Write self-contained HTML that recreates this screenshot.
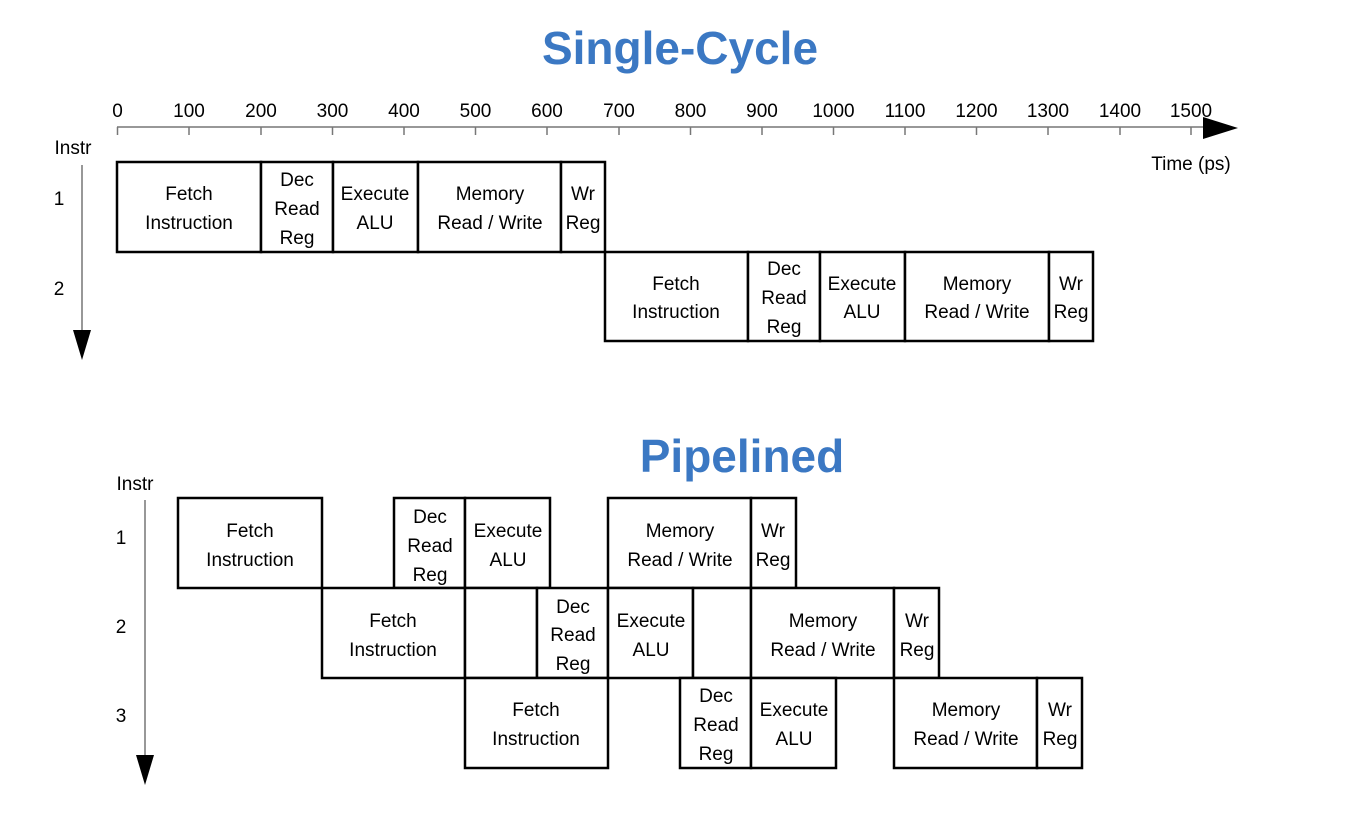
<!DOCTYPE html>
<html><head><meta charset="utf-8"><style>
html,body{margin:0;padding:0;background:#fff;}
svg{display:block;font-family:"Liberation Sans",sans-serif;}
.t{font-size:19px;fill:#000;text-anchor:middle;}
.b{fill:#fff;stroke:#000;stroke-width:2.5;}
</style></head><body>
<svg width="1351" height="829" viewBox="0 0 1351 829">
<text x="680" y="64" font-size="46" font-weight="bold" fill="#3b78c3" text-anchor="middle">Single-Cycle</text>
<text x="742" y="472" font-size="46" font-weight="bold" fill="#3b78c3" text-anchor="middle">Pipelined</text>
<line x1="117" y1="127" x2="1210" y2="127" stroke="#777" stroke-width="1.5"/>
<polygon points="1203,117 1238,128 1203,139" fill="#000"/>
<g stroke="#777" stroke-width="1.5">
<line x1="117.5" y1="127" x2="117.5" y2="135"/><line x1="189" y1="127" x2="189" y2="135"/><line x1="261" y1="127" x2="261" y2="135"/><line x1="332.5" y1="127" x2="332.5" y2="135"/><line x1="404" y1="127" x2="404" y2="135"/><line x1="475.5" y1="127" x2="475.5" y2="135"/><line x1="547" y1="127" x2="547" y2="135"/><line x1="619" y1="127" x2="619" y2="135"/><line x1="690.5" y1="127" x2="690.5" y2="135"/><line x1="762" y1="127" x2="762" y2="135"/><line x1="833.5" y1="127" x2="833.5" y2="135"/><line x1="905" y1="127" x2="905" y2="135"/><line x1="976.5" y1="127" x2="976.5" y2="135"/><line x1="1048" y1="127" x2="1048" y2="135"/><line x1="1120" y1="127" x2="1120" y2="135"/><line x1="1191" y1="127" x2="1191" y2="135"/>
</g>
<g class="t">
<text x="117.5" y="117">0</text><text x="189" y="117">100</text><text x="261" y="117">200</text><text x="332.5" y="117">300</text><text x="404" y="117">400</text><text x="475.5" y="117">500</text><text x="547" y="117">600</text><text x="619" y="117">700</text><text x="690.5" y="117">800</text><text x="762" y="117">900</text><text x="833.5" y="117">1000</text><text x="905" y="117">1100</text><text x="976.5" y="117">1200</text><text x="1048" y="117">1300</text><text x="1120" y="117">1400</text><text x="1191" y="117">1500</text>
<text x="1191" y="170">Time (ps)</text>
<text x="73" y="154">Instr</text>
<text x="59" y="205">1</text><text x="59" y="295">2</text>
<text x="135" y="490">Instr</text>
<text x="121" y="544">1</text><text x="121" y="633">2</text><text x="121" y="722">3</text>
</g>
<line x1="82" y1="165" x2="82" y2="335" stroke="#777" stroke-width="1.5"/>
<polygon points="73,330 91,330 82,360" fill="#000"/>
<line x1="145" y1="500" x2="145" y2="760" stroke="#777" stroke-width="1.5"/>
<polygon points="136,755 154,755 145,785" fill="#000"/>

<g class="b">
<rect x="117" y="162" width="144" height="90"/><rect x="261" y="162" width="72" height="90"/><rect x="333" y="162" width="85" height="90"/><rect x="418" y="162" width="143" height="90"/><rect x="561" y="162" width="44" height="90"/>
<rect x="605" y="252" width="143" height="89"/><rect x="748" y="252" width="72" height="89"/><rect x="820" y="252" width="85" height="89"/><rect x="905" y="252" width="144" height="89"/><rect x="1049" y="252" width="44" height="89"/>
<rect x="178" y="498" width="144" height="90"/><rect x="394" y="498" width="71" height="90"/><rect x="465" y="498" width="85" height="90"/><rect x="608" y="498" width="143" height="90"/><rect x="751" y="498" width="45" height="90"/>
<rect x="322" y="588" width="143" height="90"/><rect x="465" y="588" width="72" height="90"/><rect x="537" y="588" width="71" height="90"/><rect x="608" y="588" width="85" height="90"/><rect x="693" y="588" width="58" height="90"/><rect x="751" y="588" width="143" height="90"/><rect x="894" y="588" width="45" height="90"/>
<rect x="465" y="678" width="143" height="90"/><rect x="680" y="678" width="71" height="90"/><rect x="751" y="678" width="85" height="90"/><rect x="894" y="678" width="143" height="90"/><rect x="1037" y="678" width="45" height="90"/>
</g>

<g class="t">
<text x="189" y="200">Fetch</text><text x="189" y="229">Instruction</text>
<text x="297" y="186">Dec</text><text x="297" y="215">Read</text><text x="297" y="244">Reg</text>
<text x="375" y="200">Execute</text><text x="375" y="229">ALU</text>
<text x="490" y="200">Memory</text><text x="490" y="229">Read / Write</text>
<text x="583" y="200">Wr</text><text x="583" y="229">Reg</text>
<text x="676" y="290">Fetch</text><text x="676" y="318">Instruction</text>
<text x="784" y="275">Dec</text><text x="784" y="304">Read</text><text x="784" y="333">Reg</text>
<text x="862" y="290">Execute</text><text x="862" y="318">ALU</text>
<text x="977" y="290">Memory</text><text x="977" y="318">Read / Write</text>
<text x="1071" y="290">Wr</text><text x="1071" y="318">Reg</text>
<text x="250" y="537">Fetch</text><text x="250" y="566">Instruction</text>
<text x="430" y="523">Dec</text><text x="430" y="552">Read</text><text x="430" y="581">Reg</text>
<text x="508" y="537">Execute</text><text x="508" y="566">ALU</text>
<text x="680" y="537">Memory</text><text x="680" y="566">Read / Write</text>
<text x="773" y="537">Wr</text><text x="773" y="566">Reg</text>
<text x="393" y="627">Fetch</text><text x="393" y="656">Instruction</text>
<text x="573" y="613">Dec</text><text x="573" y="641">Read</text><text x="573" y="670">Reg</text>
<text x="651" y="627">Execute</text><text x="651" y="656">ALU</text>
<text x="823" y="627">Memory</text><text x="823" y="656">Read / Write</text>
<text x="917" y="627">Wr</text><text x="917" y="656">Reg</text>
<text x="536" y="716">Fetch</text><text x="536" y="745">Instruction</text>
<text x="716" y="702">Dec</text><text x="716" y="731">Read</text><text x="716" y="760">Reg</text>
<text x="794" y="716">Execute</text><text x="794" y="745">ALU</text>
<text x="966" y="716">Memory</text><text x="966" y="745">Read / Write</text>
<text x="1060" y="716">Wr</text><text x="1060" y="745">Reg</text>
</g>
</svg>
</body></html>
